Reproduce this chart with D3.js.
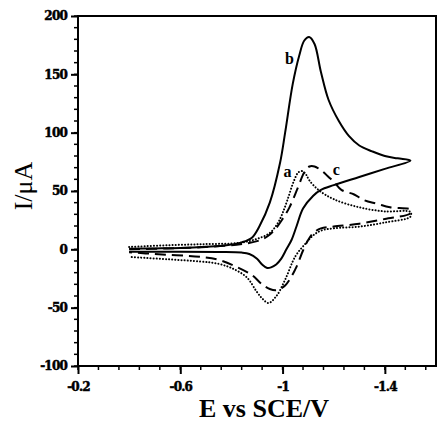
<!DOCTYPE html>
<html>
<head>
<meta charset="utf-8">
<script src="https://cdn.jsdelivr.net/npm/d3@7"></script>
<style>
  body { margin: 0; background: #fff; }
  svg { display: block; }
</style>
</head>
<body>
<svg id="chart"></svg>
<script>
// potential E (V vs SCE) , current I (uA)
const bForward = [[-0.40,0.5],[-0.50,0.8],[-0.60,1.2],[-0.70,2.2],[-0.78,3.5],[-0.84,6],[-0.88,10],[-0.91,20],[-0.95,40],[-0.99,74],[-1.01,100],[-1.04,142],[-1.065,166],[-1.085,179],[-1.104,182],[-1.125,176],[-1.15,152],[-1.18,128],[-1.22,110],[-1.26,97],[-1.30,89],[-1.35,84],[-1.40,80],[-1.45,78],[-1.50,76]];
const bReverse = [[-1.50,76],[-1.40,69],[-1.30,62],[-1.20,55],[-1.15,51],[-1.12,46],[-1.08,35],[-1.055,20],[-1.035,8],[-1.015,0],[-0.995,-8],[-0.975,-13],[-0.955,-15.5],[-0.94,-16],[-0.92,-13],[-0.90,-8],[-0.87,-4],[-0.84,-2.8],[-0.75,-2.3],[-0.60,-2],[-0.40,-2]];
const aForward = [[-0.40,2],[-0.55,3.5],[-0.70,4.5],[-0.83,5.5],[-0.90,9],[-0.95,14],[-0.98,22],[-1.00,31],[-1.02,43],[-1.045,59],[-1.062,66],[-1.078,67],[-1.092,64],[-1.105,59],[-1.14,51],[-1.20,43],[-1.30,36],[-1.40,32.5],[-1.50,32]];
const aReverse = [[-1.50,28],[-1.40,23],[-1.30,19.5],[-1.20,18],[-1.15,16],[-1.12,12],[-1.09,5],[-1.05,-6],[-1.01,-26],[-0.976,-40],[-0.945,-46],[-0.92,-42],[-0.898,-36],[-0.86,-24],[-0.80,-16],[-0.74,-12],[-0.68,-10.5],[-0.55,-8.5],[-0.40,-6.5]];
const cForward = [[-0.40,0],[-0.55,0.8],[-0.70,2],[-0.82,4],[-0.90,7],[-0.94,11],[-0.97,17],[-1.00,26],[-1.027,36],[-1.06,53],[-1.085,66],[-1.105,71],[-1.125,71],[-1.155,67],[-1.18,62],[-1.20,58],[-1.23,51],[-1.28,47],[-1.32,42],[-1.37,39],[-1.42,36],[-1.50,34]];
const cReverse = [[-1.50,31],[-1.40,26],[-1.30,22],[-1.20,19.5],[-1.15,18],[-1.12,14],[-1.10,8],[-1.08,-1],[-1.05,-17],[-1.01,-31],[-0.976,-35],[-0.95,-34],[-0.92,-30],[-0.88,-22],[-0.82,-15],[-0.75,-9],[-0.68,-6.5],[-0.50,-4],[-0.40,-2.5]];

const xTicks = [-0.2, -0.6, -1, -1.4];
const yTicks = [-100, -50, 0, 50, 100, 150, 200];
const curveLabels = [{t:"b", E:-1.027, I:159}, {t:"a", E:-1.019, I:62}, {t:"c", E:-1.21, I:64}];

const width = 438, height = 423;
const marginTop = 16, marginRight = 2, marginBottom = 57, marginLeft = 78;

const svg = d3.select("#chart")
    .attr("width", width)
    .attr("height", height)
    .attr("viewBox", [0, 0, width, height]);

const x = d3.scaleLinear().domain([-0.2, -1.6]).range([marginLeft, width - marginRight]);
const y = d3.scaleLinear().domain([-100, 200]).range([height - marginBottom, marginTop]);

const tickFont = "DejaVu Serif, serif";
const styleTicks = g => g.selectAll("text")
    .attr("font-family", tickFont).attr("font-weight", "bold")
    .attr("font-size", 12).attr("letter-spacing", -0.8)
    .attr("fill", "#000").attr("stroke", "#000").attr("stroke-width", 0.5);

// frame
svg.append("rect")
    .attr("x", marginLeft).attr("y", marginTop)
    .attr("width", width - marginRight - marginLeft)
    .attr("height", height - marginBottom - marginTop)
    .attr("fill", "none").attr("stroke", "#000").attr("stroke-width", 2);

// minor ticks
const xMinor = d3.range(0, 18).map(i => -0.2 - i * 0.08).filter(v => v >= -1.6);
svg.append("g").selectAll("line").data(xMinor).join("line")
    .attr("x1", d => x(d)).attr("x2", d => x(d))
    .attr("y1", y(-100) - 1).attr("y2", y(-100) + 4)
    .attr("stroke", "#000").attr("stroke-width", 1.5);
const yMinor = d3.range(-100, 201, 10);
svg.append("g").selectAll("line").data(yMinor).join("line")
    .attr("x1", x(-0.2) - 4).attr("x2", x(-0.2) + 1)
    .attr("y1", d => y(d)).attr("y2", d => y(d))
    .attr("stroke", "#000").attr("stroke-width", 1.5);

// major axes
svg.append("g")
    .attr("transform", `translate(0,${y(-100)})`)
    .call(d3.axisBottom(x).tickValues(xTicks).tickSize(8).tickPadding(8).tickFormat(d => String(d)))
    .call(g => g.select(".domain").remove())
    .call(g => g.selectAll("line").attr("stroke-width", 2))
    .call(styleTicks);

svg.append("g")
    .attr("transform", `translate(${x(-0.2)},0)`)
    .call(d3.axisLeft(y).tickValues(yTicks).tickSize(7).tickPadding(4).tickFormat(d => String(d)))
    .call(g => g.select(".domain").remove())
    .call(g => g.selectAll("line").attr("stroke-width", 2))
    .call(styleTicks);

// curves
const line = d3.line()
    .x(d => x(d[0]))
    .y(d => y(d[1]))
    .curve(d3.curveCatmullRom.alpha(0.5));

svg.append("path")
    .attr("d", line(bForward.concat(bReverse.slice(1))))
    .attr("fill", "none").attr("stroke", "#000").attr("stroke-width", 2);
svg.append("path")
    .attr("d", line(aForward.concat(aReverse)))
    .attr("fill", "none").attr("stroke", "#000").attr("stroke-width", 2)
    .attr("stroke-linecap", "round").attr("stroke-dasharray", "0.1,3");
svg.append("path")
    .attr("d", line(cForward.concat(cReverse)))
    .attr("fill", "none").attr("stroke", "#000").attr("stroke-width", 2)
    .attr("stroke-dasharray", "11,6");

svg.append("g").selectAll("text").data(curveLabels).join("text")
    .attr("x", d => x(d.E)).attr("y", d => y(d.I))
    .attr("text-anchor", "middle")
    .attr("font-family", "Liberation Serif, serif").attr("font-weight", "bold")
    .attr("font-size", 16).attr("fill", "#000")
    .text(d => d.t);

// axis titles
svg.append("text")
    .attr("x", 264).attr("y", 417)
    .attr("text-anchor", "middle")
    .attr("font-family", "Liberation Serif, serif").attr("font-weight", "bold")
    .attr("font-size", 26).attr("fill", "#000")
    .text("E vs SCE/V");

svg.append("text")
    .attr("transform", "translate(32,186) rotate(-90)")
    .attr("text-anchor", "middle")
    .attr("font-family", "Liberation Serif, serif")
    .attr("font-size", 26).attr("fill", "#000")
    .text("I/μA");
</script>
</body>
</html>
